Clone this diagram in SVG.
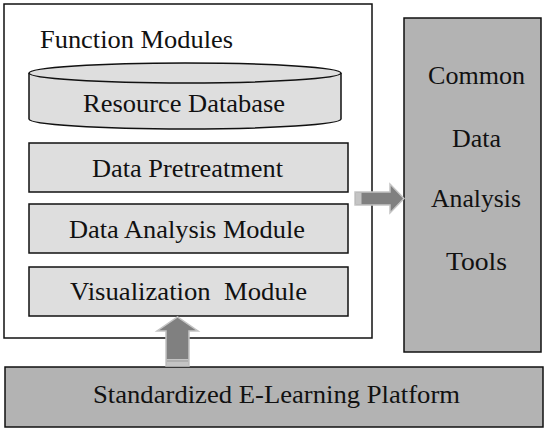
<svg xmlns="http://www.w3.org/2000/svg" width="545" height="430" viewBox="0 0 545 430">
<style>
.mod{fill:#dedede;stroke:#111;stroke-width:1.5;}
.grey{fill:#b3b3b3;stroke:#111;stroke-width:1.5;}
.arr{fill:#808080;stroke:#c4c4c4;stroke-width:1.5;}
</style>
<rect width="545" height="430" fill="#fff"/>
<g id="function-modules">
<rect x="4" y="4" width="368" height="334" fill="#fff" stroke="#111" stroke-width="1.5"/>
<text x="40" y="48" font-family="Liberation Serif" font-size="26" fill="#111" textLength="193" lengthAdjust="spacingAndGlyphs">Function Modules</text>
</g>
<g id="resource-database">
<path class="mod" d="M29,73 L29,119 A156,10 0 0 0 341,119 L341,73"/>
<ellipse class="mod" cx="185" cy="73" rx="156" ry="10"/>
<text x="83" y="112" font-family="Liberation Serif" font-size="26" fill="#111" textLength="202" lengthAdjust="spacingAndGlyphs">Resource Database</text>
</g>
<g id="data-pretreatment">
<rect class="mod" x="29" y="143" width="319" height="49"/>
<text x="92" y="177" font-family="Liberation Serif" font-size="26" fill="#111" textLength="191" lengthAdjust="spacingAndGlyphs">Data Pretreatment</text>
</g>
<g id="data-analysis-module">
<rect class="mod" x="29" y="204" width="319" height="49"/>
<text x="69" y="238" font-family="Liberation Serif" font-size="26" fill="#111" textLength="236" lengthAdjust="spacingAndGlyphs">Data Analysis Module</text>
</g>
<g id="visualization-module">
<rect class="mod" x="29" y="267" width="319" height="49"/>
<text x="70" y="300" font-family="Liberation Serif" font-size="26" fill="#111" textLength="237" lengthAdjust="spacingAndGlyphs" xml:space="preserve">Visualization  Module</text>
</g>
<g id="common-tools">
<rect class="grey" x="404" y="18" width="137" height="334"/>
<text x="428" y="84" font-family="Liberation Serif" font-size="26" fill="#111" textLength="97" lengthAdjust="spacingAndGlyphs">Common</text>
<text x="452" y="147" font-family="Liberation Serif" font-size="26" fill="#111" textLength="49" lengthAdjust="spacingAndGlyphs">Data</text>
<text x="431" y="207" font-family="Liberation Serif" font-size="26" fill="#111" textLength="90" lengthAdjust="spacingAndGlyphs">Analysis</text>
<text x="446" y="270" font-family="Liberation Serif" font-size="26" fill="#111" textLength="61" lengthAdjust="spacingAndGlyphs">Tools</text>
</g>
<g id="platform">
<rect class="grey" x="5" y="367" width="538" height="60"/>
<text x="93" y="403" font-family="Liberation Serif" font-size="26" fill="#111" textLength="367" lengthAdjust="spacingAndGlyphs">Standardized E-Learning Platform</text>
</g>
<g id="connectors">
<polygon class="arr" points="355,192 390,192 390,184 404,198.5 390,213 390,205 355,205"/>
<rect x="355.5" y="192.5" width="6" height="12" fill="#c4c4c4"/>
<polygon class="arr" points="166,366 166,331 157,331 177.5,317 198,331 189,331 189,366"/>
<rect x="166.5" y="359" width="22" height="7" fill="#c4c4c4"/>
<line x1="167" y1="361" x2="188" y2="361" stroke="#999" stroke-width="1"/>
</g>
</svg>
